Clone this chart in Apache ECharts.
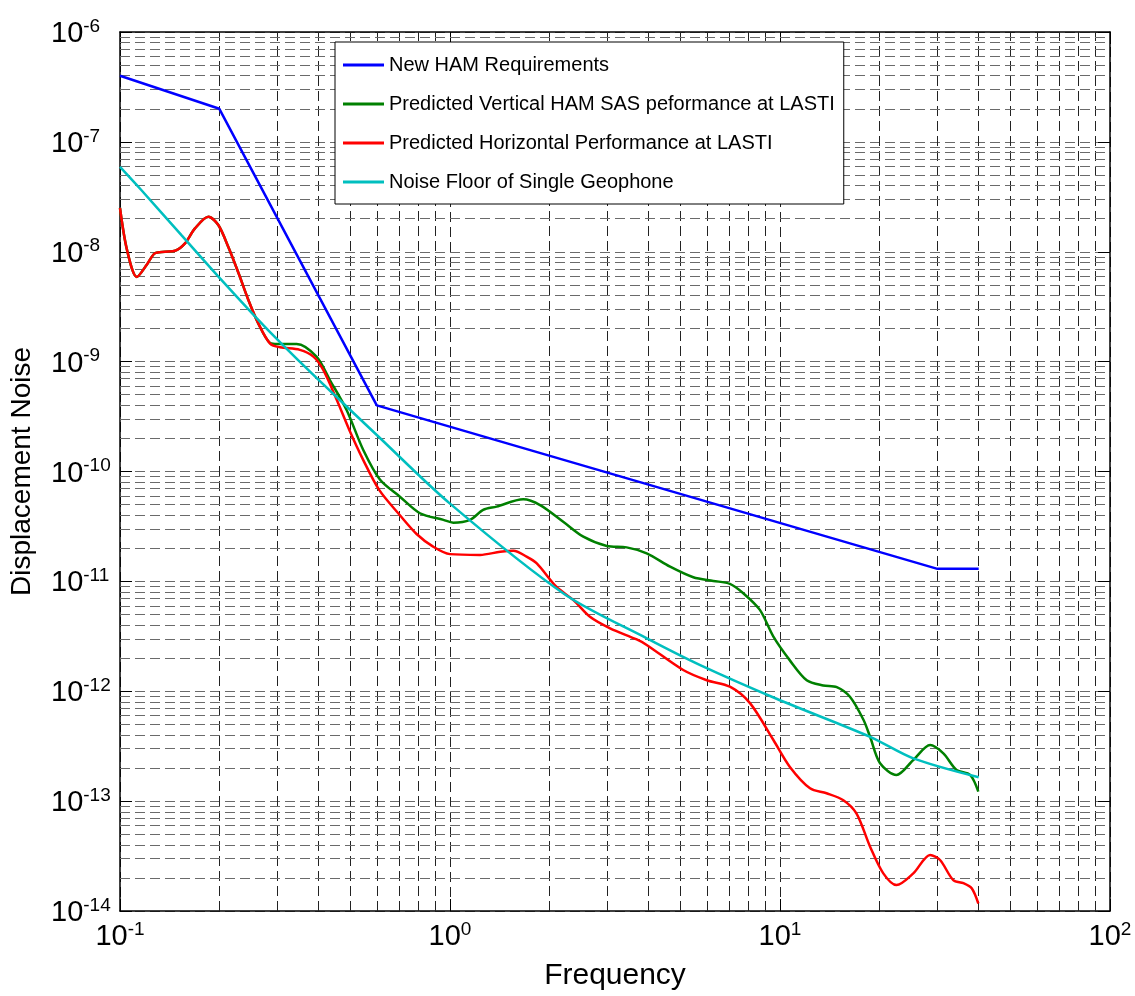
<!DOCTYPE html>
<html>
<head>
<meta charset="utf-8">
<script src="https://cdn.jsdelivr.net/npm/echarts@6/dist/echarts.min.js"></script>
<style>
  html, body { margin: 0; padding: 0; background: #fff; }
  #chart { width: 1135px; height: 996px; }
</style>
</head>
<body>
<div id="chart"></div>
<script>
const FONT = "'Liberation Sans', Arial, Helvetica, sans-serif";

const seriesNames = [
  "New HAM Requirements",
  "Predicted Vertical HAM SAS peformance at LASTI",
  "Predicted Horizontal Performance at LASTI",
  "Noise Floor of Single Geophone"
];
const seriesColors = ["#0000ff", "#008000", "#ff0000", "#00bfbf"];

// New HAM requirements (piecewise straight in log-log)
const hamReqFreq = [0.1, 0.2, 0.6, 30, 40];
const hamReqVal = [4e-7, 2e-7, 4e-10, 1.3e-11, 1.3e-11];

// Predicted vertical HAM SAS performance
const vertFreq = [0.100, 0.105, 0.1125, 0.1205, 0.1276, 0.1368, 0.1469, 0.1574, 0.1687, 0.1854,
  0.1986, 0.2128, 0.2286, 0.2449, 0.2624, 0.285, 0.30, 0.343, 0.394, 0.4325,
  0.486, 0.546, 0.614, 0.705, 0.811, 0.955, 1.023, 1.15, 1.26, 1.384, 1.667, 1.875,
  2.203, 2.535, 2.985, 3.43, 3.945, 4.645, 5.46, 6.28, 7.05, 7.74,
  8.69, 9.55, 10.7, 12.05, 13.52, 14.86, 16.29, 17.9, 18.75, 20.1,
  22.54, 25.35, 28.51, 31.26, 34.28, 37.67, 39.9];
const vertVal = [2.5e-8, 1.04e-8, 5.9e-9, 7.6e-9, 9.7e-9, 1.0e-8, 1.02e-8, 1.19e-8, 1.63e-8, 2.08e-8,
  1.75e-8, 1.11e-8, 6.4e-9, 3.64e-9, 2.23e-9, 1.48e-9, 1.45e-9, 1.45e-9, 1.11e-9, 6.8e-10,
  3.63e-10, 1.57e-10, 8.4e-11, 5.9e-11, 4.17e-11, 3.63e-11, 3.42e-11, 3.63e-11, 4.47e-11, 4.79e-11, 5.58e-11, 4.95e-11,
  3.49e-11, 2.55e-11, 2.1e-11, 2.04e-11, 1.8e-11, 1.36e-11, 1.09e-11, 1.01e-11, 9.5e-12, 7.8e-12,
  5.5e-12, 3.14e-12, 1.92e-12, 1.26e-12, 1.13e-12, 1.09e-12, 8.9e-13, 5.5e-13, 3.85e-13, 2.21e-13,
  1.73e-13, 2.37e-13, 3.24e-13, 2.72e-13, 1.92e-13, 1.73e-13, 1.22e-13];

// Predicted horizontal performance
const horizFreq = [0.100, 0.105, 0.1125, 0.1205, 0.1276, 0.1368, 0.1469, 0.1574, 0.1687, 0.1854,
  0.1986, 0.2128, 0.2286, 0.2449, 0.2624, 0.285, 0.3055, 0.3508, 0.3855, 0.413,
  0.454, 0.498, 0.546, 0.61, 0.705, 0.792, 0.889, 1.0, 1.233, 1.42,
  1.556, 1.706, 1.832, 2.10, 2.366, 2.655, 3.055, 3.68, 3.945, 5.09, 6.0,
  7.05, 8.11, 9.55, 10.7, 12.33, 13.84, 15.56, 17.06, 18.75, 20.56,
  22.54, 25.35, 28.51, 30.55, 33.5, 35.97, 38.1, 39.9];
const horizVal = [2.5e-8, 1.04e-8, 5.9e-9, 7.6e-9, 9.7e-9, 1.0e-8, 1.02e-8, 1.19e-8, 1.63e-8, 2.08e-8,
  1.75e-8, 1.11e-8, 6.4e-9, 3.64e-9, 2.23e-9, 1.46e-9, 1.35e-9, 1.28e-9, 1.11e-9, 8.4e-10,
  4.48e-10, 2.3e-10, 1.27e-10, 6.8e-11, 4.0e-11, 2.7e-11, 2.07e-11, 1.77e-11, 1.74e-11, 1.86e-11,
  1.9e-11, 1.68e-11, 1.46e-11, 8.95e-12, 6.76e-12, 4.76e-12, 3.74e-12, 2.96e-12, 2.64e-12, 1.56e-12, 1.26e-12,
  1.1e-12, 7.8e-13, 3.6e-13, 2.06e-13, 1.31e-13, 1.18e-13, 1.02e-13, 7.7e-14, 3.85e-14, 2.2e-14,
  1.72e-14, 2.2e-14, 3.24e-14, 2.91e-14, 1.91e-14, 1.79e-14, 1.61e-14, 1.17e-14];

// Noise floor of a single geophone
const geoFreq = [0.1, 0.116, 0.154, 0.199, 0.256, 0.309, 0.394, 0.6, 1.0, 2.23,
  3.95, 5.73, 9.8, 18.75, 25.35, 40];
const geoVal = [5.93e-8, 3.65e-8, 1.4e-8, 5.9e-9, 2.6e-9, 1.45e-9, 7.1e-10, 2.15e-10, 5.1e-11, 7.6e-12,
  3.03e-12, 1.73e-12, 8.5e-13, 3.85e-13, 2.45e-13, 1.65e-13];

// axis range, decades and minor grid multipliers
const xRange = [0.1, 100];
const yRange = [1e-14, 1e-6];
const xDecades = [0.1, 1, 10];
const yDecades = [1e-14, 1e-13, 1e-12, 1e-11, 1e-10, 1e-9, 1e-8, 1e-7];
const minorMult = [2, 3, 4, 5, 6, 7, 8, 9];

const pairs = (fs, vs) => fs.map((f, i) => [f, vs[i]]);

const xGridStyle = { color: "#222", width: 1, type: [10, 5] };
const yGridStyle = { color: "#6a6a6a", width: 1, type: [10, 5] };

// minor grid lines at 2..9 x 10^k
const minorLines = [];
xDecades.forEach(d => minorMult.forEach(m => {
  minorLines.push([{ coord: [d * m, yRange[0]], lineStyle: xGridStyle }, { coord: [d * m, yRange[1]] }]);
}));
yDecades.forEach(d => minorMult.forEach(m => {
  minorLines.push([{ coord: [xRange[0], d * m], lineStyle: yGridStyle }, { coord: [xRange[1], d * m] }]);
}));

function powLabel(v) {
  const e = Math.round(Math.log10(v));
  return "{b|10}{s|" + e + "}";
}
const labelRich = {
  b: { fontFamily: FONT, fontSize: 29, lineHeight: 30, color: "#000", padding: [4, 0, 0, 0] },
  s: { fontFamily: FONT, fontSize: 19, lineHeight: 19, color: "#000", verticalAlign: "top" }
};

const chart = echarts.init(document.getElementById("chart"), null, { renderer: "canvas" });

const frameLine = { show: true, onZero: false, lineStyle: { color: "#000", width: 1.5 } };
const innerTick = { show: true, inside: true, length: 12, lineStyle: { color: "#000", width: 1 } };

const option = {
  animation: false,
  backgroundColor: "#fff",
  grid: { left: 120, right: 25, top: 32, bottom: 85 },
  legend: {
    data: seriesNames,
    orient: "vertical",
    left: 335,
    top: 42,
    padding: [9, 9, 8, 8],
    itemGap: 11,
    itemWidth: 41,
    itemHeight: 3,
    icon: "rect",
    backgroundColor: "#fff",
    borderColor: "#000",
    borderWidth: 1,
    borderRadius: 0,
    textStyle: { fontFamily: FONT, fontSize: 20, lineHeight: 28, color: "#000" }
  },
  xAxis: [
    {
      type: "log", logBase: 10, min: xRange[0], max: xRange[1],
      name: "Frequency", nameLocation: "middle", nameGap: 50,
      nameTextStyle: { fontFamily: FONT, fontSize: 30, color: "#000" },
      axisLine: frameLine, axisTick: innerTick,
      axisLabel: { margin: 9, formatter: powLabel, rich: labelRich },
      splitLine: { show: true, lineStyle: xGridStyle }
    },
    {
      type: "log", logBase: 10, min: xRange[0], max: xRange[1], position: "top",
      axisLine: frameLine, axisTick: innerTick,
      axisLabel: { show: false }, splitLine: { show: false }
    }
  ],
  yAxis: [
    {
      type: "log", logBase: 10, min: yRange[0], max: yRange[1],
      name: "Displacement Noise", nameLocation: "middle", nameGap: 84,
      nameTextStyle: { fontFamily: FONT, fontSize: 28, color: "#000" },
      axisLine: frameLine, axisTick: innerTick,
      axisLabel: { margin: 69, align: "left", formatter: powLabel, rich: labelRich },
      splitLine: { show: true, lineStyle: yGridStyle }
    },
    {
      type: "log", logBase: 10, min: yRange[0], max: yRange[1], position: "right",
      axisLine: frameLine, axisTick: innerTick,
      axisLabel: { show: false }, splitLine: { show: false }
    }
  ],
  series: [
    {
      name: "minor grid", type: "line", data: [], silent: true,
      markLine: {
        silent: true, z: 1, symbol: ["none", "none"], label: { show: false },
        animation: false, data: minorLines
      }
    },
    {
      name: seriesNames[0], type: "line", color: seriesColors[0], showSymbol: false, z: 3,
      lineStyle: { width: 2.5 }, data: pairs(hamReqFreq, hamReqVal)
    },
    {
      name: seriesNames[1], type: "line", color: seriesColors[1], showSymbol: false, z: 3,
      smooth: 0.3, lineStyle: { width: 2.5 }, data: pairs(vertFreq, vertVal)
    },
    {
      name: seriesNames[2], type: "line", color: seriesColors[2], showSymbol: false, z: 3,
      smooth: 0.3, lineStyle: { width: 2.5 }, data: pairs(horizFreq, horizVal)
    },
    {
      name: seriesNames[3], type: "line", color: seriesColors[3], showSymbol: false, z: 3,
      smooth: 0.3, lineStyle: { width: 2.5 }, data: pairs(geoFreq, geoVal)
    }
  ]
};

chart.setOption(option);
</script>
</body>
</html>
